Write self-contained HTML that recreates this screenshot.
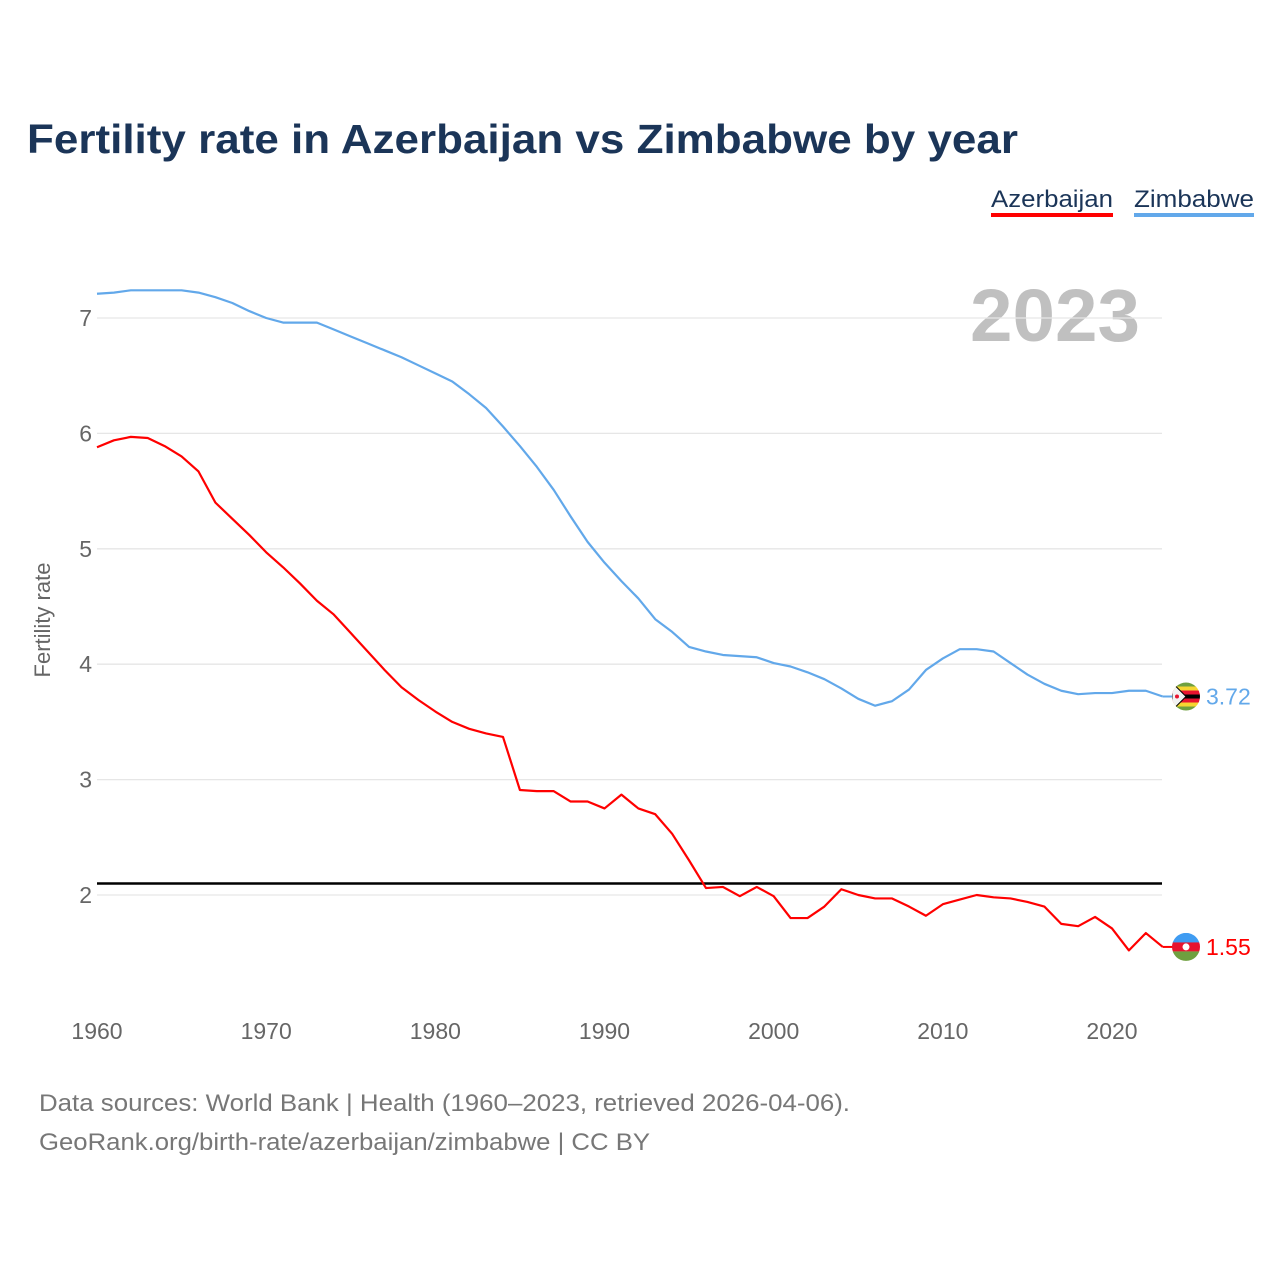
<!DOCTYPE html>
<html><head><meta charset="utf-8">
<style>
body{margin:0;background:#fff;width:1280px;height:1280px;overflow:hidden;font-family:"Liberation Sans",sans-serif}
svg text{font-family:"Liberation Sans",sans-serif}
</style></head>
<body>
<svg id="chart" width="1280" height="1280" viewBox="0 0 1280 1280" xmlns="http://www.w3.org/2000/svg">
<text x="27" y="153" font-size="41" font-weight="bold" fill="#1b3558" textLength="991" lengthAdjust="spacingAndGlyphs">Fertility rate in Azerbaijan vs Zimbabwe by year</text>
<g>
<g>
<text x="991" y="207" font-size="24" fill="#1b3558" textLength="122" lengthAdjust="spacingAndGlyphs">Azerbaijan</text>
<rect x="991" y="213" width="122" height="4" fill="#ff0000"/>
</g>
<g>
<text x="1134" y="207" font-size="24" fill="#1b3558" textLength="120" lengthAdjust="spacingAndGlyphs">Zimbabwe</text>
<rect x="1134" y="213" width="120" height="4" fill="#62a8ea"/>
</g>
</g>
<text x="1140" y="341" text-anchor="end" font-size="74" font-weight="bold" fill="#c0c0c0" textLength="170" lengthAdjust="spacingAndGlyphs">2023</text>
<g id="grid"></g>
<g id="xticks"></g>
<g id="yticks"></g>
<text transform="translate(50,620) rotate(-90)" text-anchor="middle" font-size="22" fill="#666">Fertility rate</text>
<g id="series"></g>
<text x="39" y="1111" font-size="24" fill="#777" textLength="811" lengthAdjust="spacingAndGlyphs">Data sources: World Bank | Health (1960–2023, retrieved 2026-04-06).</text>
<text x="39" y="1150" font-size="24" fill="#777" textLength="611" lengthAdjust="spacingAndGlyphs">GeoRank.org/birth-rate/azerbaijan/zimbabwe | CC BY</text>
</svg>
<script>
const years=[];for(let y=1960;y<=2023;y++)years.push(y);
const azerbaijan=[5.88,5.94,5.97,5.96,5.89,5.80,5.67,5.40,5.26,5.12,4.97,4.84,4.70,4.55,4.43,4.27,4.11,3.95,3.80,3.69,3.59,3.50,3.44,3.40,3.37,2.91,2.90,2.90,2.81,2.81,2.75,2.87,2.75,2.70,2.53,2.30,2.06,2.07,1.99,2.07,1.99,1.80,1.80,1.90,2.05,2.00,1.97,1.97,1.90,1.82,1.92,1.96,2.00,1.98,1.97,1.94,1.90,1.75,1.73,1.81,1.71,1.52,1.67,1.55];
const zimbabwe=[7.21,7.22,7.24,7.24,7.24,7.24,7.22,7.18,7.13,7.06,7.00,6.96,6.96,6.96,6.90,6.84,6.78,6.72,6.66,6.59,6.52,6.45,6.34,6.22,6.06,5.89,5.71,5.51,5.28,5.06,4.88,4.72,4.57,4.39,4.28,4.15,4.11,4.08,4.07,4.06,4.01,3.98,3.93,3.87,3.79,3.70,3.64,3.68,3.78,3.95,4.05,4.13,4.13,4.11,4.01,3.91,3.83,3.77,3.74,3.75,3.75,3.77,3.77,3.72];
const replacement=[2.1];
const yTicks=[2,3,4,5,6,7];
const xTicks=[1960,1970,1980,1990,2000,2010,2020];
const NS="http://www.w3.org/2000/svg";
const X=y=>97+(y-1960)*(1015/60);
const Y=v=>895-(v-2)*115.4;
function mk(tag,attrs,parent){const e=document.createElementNS(NS,tag);for(const k in attrs)e.setAttribute(k,attrs[k]);parent.appendChild(e);return e;}
const grid=document.getElementById('grid'),yt=document.getElementById('yticks'),xt=document.getElementById('xticks'),ser=document.getElementById('series');
yTicks.forEach(v=>{
 const l=mk('line',{x1:97,x2:1162,y1:Y(v),y2:Y(v),stroke:'#e6e6e6','stroke-width':1.3},grid);
 
 
 const t=mk('text',{x:92,y:Y(v)+8,'text-anchor':'end','font-size':23,fill:'#666'},yt);t.textContent=v;
 
 
});
xTicks.forEach(v=>{
 const t=mk('text',{x:X(v),y:1039,'text-anchor':'middle','font-size':23,fill:'#666'},xt);t.textContent=v;
 
 
});
const rl=mk('line',{x1:97,x2:1162,y1:Y(replacement[0]),y2:Y(replacement[0]),stroke:'#000','stroke-width':2.5},ser);


function line(data,color,name){
 const p=mk('polyline',{points:data.map((v,i)=>X(years[i])+','+Y(v)).join(' '),fill:'none',stroke:color,'stroke-width':2.2,'stroke-linejoin':'round'},ser);
 
 
 const last=data[data.length-1],cy=Y(last);
 mk('line',{x1:X(2023),x2:1176,y1:cy,y2:cy,stroke:color,'stroke-width':2},ser);
 const g=mk('g',{},ser);
 
 
 return {g,cy,last};
}
const a=line(azerbaijan,'#ff0000','azerbaijan');
const z=line(zimbabwe,'#62a8ea','zimbabwe');
const cpA=mk('clipPath',{id:'cA'},ser);mk('circle',{cx:1186,cy:a.cy,r:14},cpA);
const fa=mk('g',{'clip-path':'url(#cA)'},a.g);
mk('rect',{x:1172,y:a.cy-14,width:28,height:10,fill:'#3f9cf2'},fa);
mk('rect',{x:1172,y:a.cy-4.5,width:28,height:9,fill:'#e8132f'},fa);
mk('rect',{x:1172,y:a.cy+4.5,width:28,height:10,fill:'#6fa03f'},fa);
mk('circle',{cx:1186,cy:a.cy,r:3.5,fill:'#fff'},fa);
const cpZ=mk('clipPath',{id:'cZ'},ser);mk('circle',{cx:1186,cy:z.cy,r:14},cpZ);
const fz=mk('g',{'clip-path':'url(#cZ)'},z.g);
['#6fa03f','#f6d531','#e8132f','#000','#e8132f','#f6d531','#6fa03f'].forEach((c,i)=>mk('rect',{x:1172,y:z.cy-14+i*4,width:28,height:4.2,fill:c},fz));
mk('polygon',{points:`1172,${z.cy-14} 1186,${z.cy} 1172,${z.cy+14}`,fill:'#f2f2f2',stroke:'#000','stroke-width':1},fz);
mk('circle',{cx:1177,cy:z.cy,r:2,fill:'#e8132f'},fz);
function lab(txt,cy,color,name){const t=mk('text',{x:1206,y:cy+8,'font-size':23,fill:color},ser);t.textContent=txt;
 
 }
lab(a.last.toFixed(2),a.cy,'#ff0000','azerbaijan-end-value');
lab(z.last.toFixed(2),z.cy,'#62a8ea','zimbabwe-end-value');
</script>
</body></html>
